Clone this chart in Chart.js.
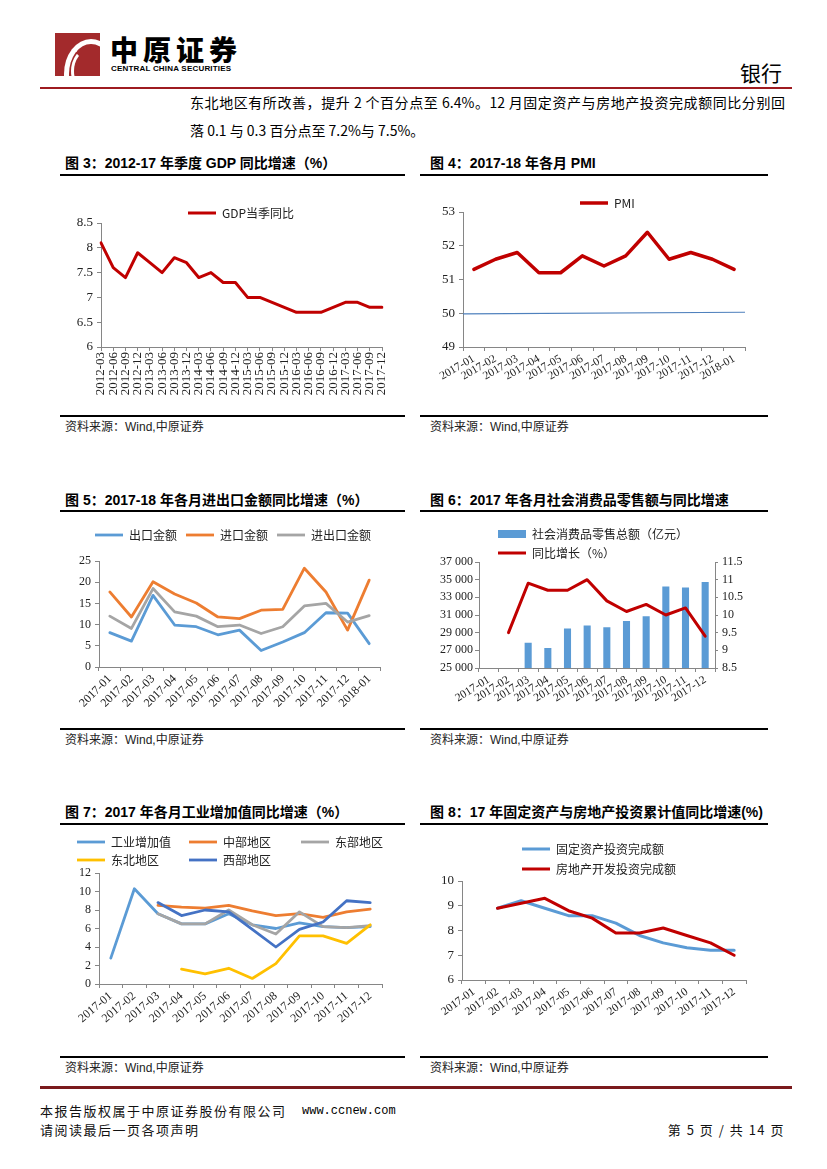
<!DOCTYPE html>
<html>
<head>
<meta charset="utf-8">
<script src="https://cdn.jsdelivr.net/npm/chart.js@4.4.0/dist/chart.umd.min.js"></script>
<style>
body{margin:0;width:827px;height:1169px;position:relative;background:#fff;color:#000;overflow:hidden;font-family:"Noto Sans CJK SC",sans-serif}
.a{position:absolute;white-space:nowrap}
.t{font-family:"Liberation Sans","Noto Sans CJK SC",sans-serif;font-size:14px;font-weight:700;line-height:16px}
.rule{position:absolute;height:2px;background:#000}
.src{font-family:"Liberation Sans","Noto Sans CJK SC",sans-serif;font-size:12px;line-height:14px;color:#222}
.box{position:absolute}
.foot{font-size:13px;line-height:16px;letter-spacing:1.5px;color:#111}
</style>
</head>
<body>

<!-- header -->
<div class="a" style="left:55px;top:33px;width:45px;height:43px;background:#a32a2c;overflow:hidden">
  <div style="position:absolute;left:9px;top:6px;width:44px;height:60px;border:5px solid #fff;border-radius:50%;border-right-color:transparent;border-bottom-color:transparent"></div>
  <div style="position:absolute;left:16px;top:15px;width:30px;height:40px;border:3px solid #fff;border-radius:50%;border-right-color:transparent;border-top-color:transparent"></div>
</div>
<div class="a" style="left:110px;top:33px;font-size:28px;line-height:32px;font-weight:900;letter-spacing:5px">中原证券</div>
<div class="a" style="left:111px;top:64px;font-family:'Liberation Sans',sans-serif;font-size:8px;line-height:9px;font-weight:700;letter-spacing:0.2px">CENTRAL CHINA SECURITIES</div>
<div class="a" style="left:740px;top:59px;font-size:21px;line-height:26px">银行</div>
<div class="a" style="left:40px;top:87px;width:752px;height:2px;background:#9e1b20"></div>

<div class="a" style="left:190px;top:92px;width:595px;font-size:14px;line-height:20px;text-align:justify;text-align-last:justify">东北地区有所改善，提升 2 个百分点至 6.4%。12 月固定资产与房地产投资完成额同比分别回</div>
<div class="a" style="left:190px;top:120px;font-size:14px;line-height:20px">落 0.1 与 0.3 百分点至 7.2%与 7.5%。</div>

<!-- row 1 -->
<div class="a t" style="left:65px;top:155px">图 3：2012-17 年季度 GDP 同比增速（%）</div>
<div class="a t" style="left:430px;top:155px">图 4：2017-18 年各月 PMI</div>
<div class="rule" style="left:60px;top:174px;width:345px"></div>
<div class="rule" style="left:420px;top:174px;width:348px"></div>
<div class="box" style="left:60px;top:178px;width:345px;height:236px"><canvas id="c3"></canvas></div>
<div class="box" style="left:420px;top:178px;width:348px;height:236px"><canvas id="c4"></canvas></div>
<div class="rule" style="left:60px;top:415px;width:345px"></div>
<div class="rule" style="left:420px;top:415px;width:348px"></div>
<div class="a src" style="left:65px;top:420px">资料来源：Wind,中原证券</div>
<div class="a src" style="left:430px;top:420px">资料来源：Wind,中原证券</div>

<!-- row 2 -->
<div class="a t" style="left:65px;top:492px">图 5：2017-18 年各月进出口金额同比增速（%）</div>
<div class="a t" style="left:430px;top:492px">图 6：2017 年各月社会消费品零售额与同比增速</div>
<div class="rule" style="left:60px;top:510px;width:345px"></div>
<div class="rule" style="left:420px;top:510px;width:348px"></div>
<div class="box" style="left:60px;top:513px;width:345px;height:214px"><canvas id="c5"></canvas></div>
<div class="box" style="left:420px;top:513px;width:348px;height:214px"><canvas id="c6"></canvas></div>
<div class="rule" style="left:60px;top:728px;width:345px"></div>
<div class="rule" style="left:420px;top:728px;width:348px"></div>
<div class="a src" style="left:65px;top:733px">资料来源：Wind,中原证券</div>
<div class="a src" style="left:430px;top:733px">资料来源：Wind,中原证券</div>

<!-- row 3 -->
<div class="a t" style="left:65px;top:804px">图 7：2017 年各月工业增加值同比增速（%）</div>
<div class="a t" style="left:430px;top:804px">图 8：17 年固定资产与房地产投资累计值同比增速(%)</div>
<div class="rule" style="left:60px;top:823px;width:345px"></div>
<div class="rule" style="left:420px;top:823px;width:348px"></div>
<div class="box" style="left:60px;top:826px;width:345px;height:230px"><canvas id="c7"></canvas></div>
<div class="box" style="left:420px;top:826px;width:348px;height:230px"><canvas id="c8"></canvas></div>
<div class="rule" style="left:60px;top:1056px;width:345px"></div>
<div class="rule" style="left:420px;top:1056px;width:348px"></div>
<div class="a src" style="left:65px;top:1061px">资料来源：Wind,中原证券</div>
<div class="a src" style="left:430px;top:1061px">资料来源：Wind,中原证券</div>

<!-- footer -->
<div class="a" style="left:40px;top:1086px;width:752px;height:3px;background:#7a1a1d"></div>
<div class="a foot" style="left:40px;top:1103px">本报告版权属于中原证券股份有限公司</div>
<div class="a" style="left:302px;top:1103px;font-family:'Liberation Mono',monospace;font-size:12px;line-height:16px">www.ccnew.com</div>
<div class="a foot" style="left:40px;top:1122px">请阅读最后一页各项声明</div>
<div class="a foot" style="right:42px;top:1122px;letter-spacing:1.5px">第 5 页 / 共 14 页</div>

<script>
// ---- data ----
let gdpLabels = ['2012-03','2012-06','2012-09','2012-12','2013-03','2013-06','2013-09','2013-12',
  '2014-03','2014-06','2014-09','2014-12','2015-03','2015-06','2015-09','2015-12',
  '2016-03','2016-06','2016-09','2016-12','2017-03','2017-06','2017-09','2017-12'];
let gdpValues = [8.1, 7.6, 7.4, 7.9, 7.7, 7.5, 7.8, 7.7, 7.4, 7.5, 7.3, 7.3,
  7.0, 7.0, 6.9, 6.8, 6.7, 6.7, 6.7, 6.8, 6.9, 6.9, 6.8, 6.8];

let months13 = ['2017-01','2017-02','2017-03','2017-04','2017-05','2017-06','2017-07',
  '2017-08','2017-09','2017-10','2017-11','2017-12','2018-01'];
let months12 = ['2017-01','2017-02','2017-03','2017-04','2017-05','2017-06','2017-07',
  '2017-08','2017-09','2017-10','2017-11','2017-12'];

let pmiValues = [51.3, 51.6, 51.8, 51.2, 51.2, 51.7, 51.4, 51.7, 52.4, 51.6, 51.8, 51.6, 51.3];
let pmiLine50 = [49.98, 50.03];

let exportGrowth = [8.1, 6.1, 16.9, 9.9, 9.5, 7.6, 8.7, 3.9, 5.9, 8.1, 12.8, 12.7, 5.5];
let importGrowth = [17.7, 11.8, 20.1, 17.2, 15.1, 11.8, 11.4, 13.4, 13.6, 23.3, 17.7, 8.7, 20.5];
let tradeGrowth = [12.0, 9.1, 18.5, 13.0, 12.0, 9.5, 9.9, 7.9, 9.5, 14.4, 15.0, 10.6, 12.1];

let retailSales = [null, null, 27864, 27278, 29459, 29808, 29610, 30330, 30870, 34240, 34108, 34734];
let retailGrowth = [null, 9.5, 10.9, 10.7, 10.7, 11.0, 10.4, 10.1, 10.3, 10.0, 10.2, 9.4];

let iavTotal = [2.8, 10.3, 7.6, 6.5, 6.5, 7.6, 6.4, 6.0, 6.6, 6.2, 6.1, 6.2];
let iavCentral = [null, null, 8.5, 8.3, 8.2, 8.5, 7.9, 7.4, 7.6, 7.2, 7.8, 8.1];
let iavEast = [null, null, 7.6, 6.5, 6.5, 8.0, 6.4, 5.4, 7.8, 6.2, 6.1, 6.3];
let iavNortheast = [null, null, null, 1.6, 1.1, 1.7, 0.6, 2.2, 5.2, 5.2, 4.4, 6.4];
let iavWest = [null, null, 8.8, 7.4, 8.0, 7.8, 5.9, 4.0, 5.9, 6.7, 9.0, 8.8];

let faiGrowth = [null, 8.9, 9.2, 8.9, 8.6, 8.6, 8.3, 7.8, 7.5, 7.3, 7.2, 7.2];
let reiGrowth = [null, 8.9, 9.1, 9.3, 8.8, 8.5, 7.9, 7.9, 8.1, 7.8, 7.5, 7.0];

// ---- shared bits ----
Chart.defaults.font.family = '"Liberation Serif", "Noto Sans CJK SC", serif';
Chart.defaults.color = '#222';
Chart.defaults.animation = false;

// legend takes no room in the layout; it is placed at a fixed spot in the canvas
const legendPlace = {
  id: 'legendPlace',
  beforeUpdate(chart) {
    let lg = chart.legend;
    if (lg && !lg.patched) {
      let fit = lg.fit;
      lg.fit = function () { fit.call(this); this.height = 0; };
      lg.patched = true;
    }
  },
  afterLayout(chart, args, o) {
    let lg = chart.legend;
    if (!lg || o.x === undefined) return;
    let pad = lg.options.labels.padding;
    lg.left = o.x - pad;
    lg.right = lg.left + o.w;
    lg.top = o.y - pad - 6;
    lg.bottom = lg.top + 60;
  }
};

function line(label, data, color, width, i, n) {
  return {
    type: 'line', label: label, data: data,
    borderColor: color, backgroundColor: color, borderWidth: width,
    pointRadius: 0, pointHoverRadius: 0, pointStyle: 'line',
    pointBorderWidth: width, pointBorderColor: color,
    tension: 0, borderJoinStyle: 'round', borderCapStyle: 'round',
    order: n - 1 - i
  };
}

function xAxis(h, rot, size, offset) {
  return {
    offset: offset,
    grid: {drawOnChartArea: false, tickLength: 4, color: '#868686', offset: offset},
    border: {color: '#868686'},
    ticks: {autoSkip: false, minRotation: rot, maxRotation: rot, padding: 1, font: {size: size}},
    afterFit: function (s) { s.height = h; }
  };
}

function yAxis(w, min, max, step, size) {
  return {
    min: min, max: max,
    grid: {drawOnChartArea: false, tickLength: 4, color: '#868686'},
    border: {color: '#868686'},
    ticks: {stepSize: step, padding: 4, font: {size: size}, callback: v => String(+v.toFixed(2))},
    afterFit: function (s) { s.width = w; }
  };
}

function legend(pad, extra) {
  let l = {
    display: true, position: 'top', align: 'start',
    labels: {
      usePointStyle: true, pointStyleWidth: 28, boxHeight: 8, padding: pad,
      color: '#222', font: {family: '"Noto Sans CJK SC"', size: 12},
      sort: (a, b) => a.datasetIndex - b.datasetIndex
    }
  };
  Object.assign(l.labels, extra || {});
  return l;
}

function opts(pad, scales, leg, place) {
  return {
    responsive: true, maintainAspectRatio: false,
    layout: {padding: pad},
    scales: scales,
    plugins: {legend: leg, legendPlace: place, tooltip: {enabled: false}}
  };
}

// ---- 图3 GDP ----
new Chart(document.getElementById('c3'), {
  type: 'line',
  data: {labels: gdpLabels, datasets: [line('GDP当季同比', gdpValues, '#c00000', 3, 0, 1)]},
  options: opts({top: 45, right: 23, bottom: 0, left: 0},
    {x: xAxis(67, 90, 13, false), y: yAxis(41, 6, 8.5, 0.5, 13)},
    legend(6), {x: 128, y: 35, w: 200}),
  plugins: [legendPlace]
});

// ---- 图4 PMI ----
new Chart(document.getElementById('c4'), {
  type: 'line',
  data: {labels: months13, datasets: [
    line('PMI', pmiValues, '#c00000', 3.5, 0, 2),
    Object.assign(line('', pmiLine50.map((v, i) => ({x: i, y: v})), '#4f81bd', 1.2, 1, 2), {xAxisID: 'x2'})
  ]},
  options: opts({top: 34, right: 23, bottom: 0, left: 0},
    {x: xAxis(67, 30, 11.5, true), x2: {type: 'linear', display: false, min: 0, max: 1},
     y: yAxis(43, 49, 53, 1, 13)},
    legend(6, {filter: it => it.text !== ''}), {x: 160, y: 25, w: 200}),
  plugins: [legendPlace]
});

// ---- 图5 进出口 ----
new Chart(document.getElementById('c5'), {
  type: 'line',
  data: {labels: months13, datasets: [
    line('出口金额', exportGrowth, '#5b9bd5', 2.8, 0, 3),
    line('进口金额', importGrowth, '#ed7d31', 2.8, 1, 3),
    line('进出口金额', tradeGrowth, '#a5a5a5', 2.8, 2, 3)
  ]},
  options: opts({top: 48, right: 25, bottom: 0, left: 0},
    {x: xAxis(60, 45, 12, true), y: yAxis(39, 0, 25, 5, 12)},
    legend(9), {x: 35, y: 22, w: 340}),
  plugins: [legendPlace]
});

// ---- 图6 社会消费品零售 ----
let c6scales = {
  x: xAxis(59, 32, 11.5, true),
  y: yAxis(59, 25000, 37000, 2000, 12),
  y1: yAxis(53, 8.5, 11.5, 0.5, 12)
};
c6scales.y.ticks.callback = v => String(v).replace(/\B(?=(\d{3})+(?!\d))/g, ' ');
c6scales.y.ticks.padding = 2;
c6scales.y1.position = 'right';
c6scales.y1.grid.tickLength = 3;
new Chart(document.getElementById('c6'), {
  type: 'bar',
  data: {labels: months12, datasets: [
    {type: 'bar', label: '社会消费品零售总额（亿元）', data: retailSales, yAxisID: 'y',
     backgroundColor: '#5b9bd5', borderWidth: 0, pointStyle: 'rect',
     barPercentage: 0.36, categoryPercentage: 1, order: 1},
    Object.assign(line('同比增长（%）', retailGrowth, '#c00000', 3, 1, 2), {yAxisID: 'y1', order: 0})
  ]},
  options: opts({top: 49, right: 0, bottom: 0, left: 0}, c6scales,
    legend(7), {x: 78, y: 21, w: 200}),
  plugins: [legendPlace]
});

// ---- 图7 工业增加值 ----
let c7pad = ['\u3000', '\u3000\u3000', '', '\u3000\u3000', ''];
new Chart(document.getElementById('c7'), {
  type: 'line',
  data: {labels: months12, datasets: [
    line('工业增加值', iavTotal, '#5b9bd5', 2.8, 0, 5),
    line('中部地区', iavCentral, '#ed7d31', 2.8, 1, 5),
    line('东部地区', iavEast, '#a5a5a5', 2.8, 2, 5),
    line('东北地区', iavNortheast, '#ffc000', 2.8, 3, 5),
    line('西部地区', iavWest, '#4472c4', 2.8, 4, 5)
  ]},
  options: opts({top: 47, right: 23, bottom: 0, left: 0},
    {x: xAxis(72, 40, 12, true), y: yAxis(39, 0, 12, 2, 12)},
    legend(6, {generateLabels: function (chart) {
      let items = Chart.defaults.plugins.legend.labels.generateLabels(chart);
      items.forEach(it => { it.text = it.text + c7pad[it.datasetIndex]; });
      return items;
    }}), {x: 17, y: 16, w: 340}),
  plugins: [legendPlace]
});

// ---- 图8 固定资产/房地产 ----
new Chart(document.getElementById('c8'), {
  type: 'line',
  data: {labels: months12, datasets: [
    line('固定资产投资完成额', faiGrowth, '#5b9bd5', 3, 0, 2),
    line('房地产开发投资完成额', reiGrowth, '#c00000', 3, 1, 2)
  ]},
  options: opts({top: 55, right: 22, bottom: 0, left: 0},
    {x: xAxis(76, 36, 11.5, true), y: yAxis(42, 6, 10, 1, 13)},
    legend(8), {x: 102, y: 23, w: 200}),
  plugins: [legendPlace]
});
</script>
</body>
</html>
